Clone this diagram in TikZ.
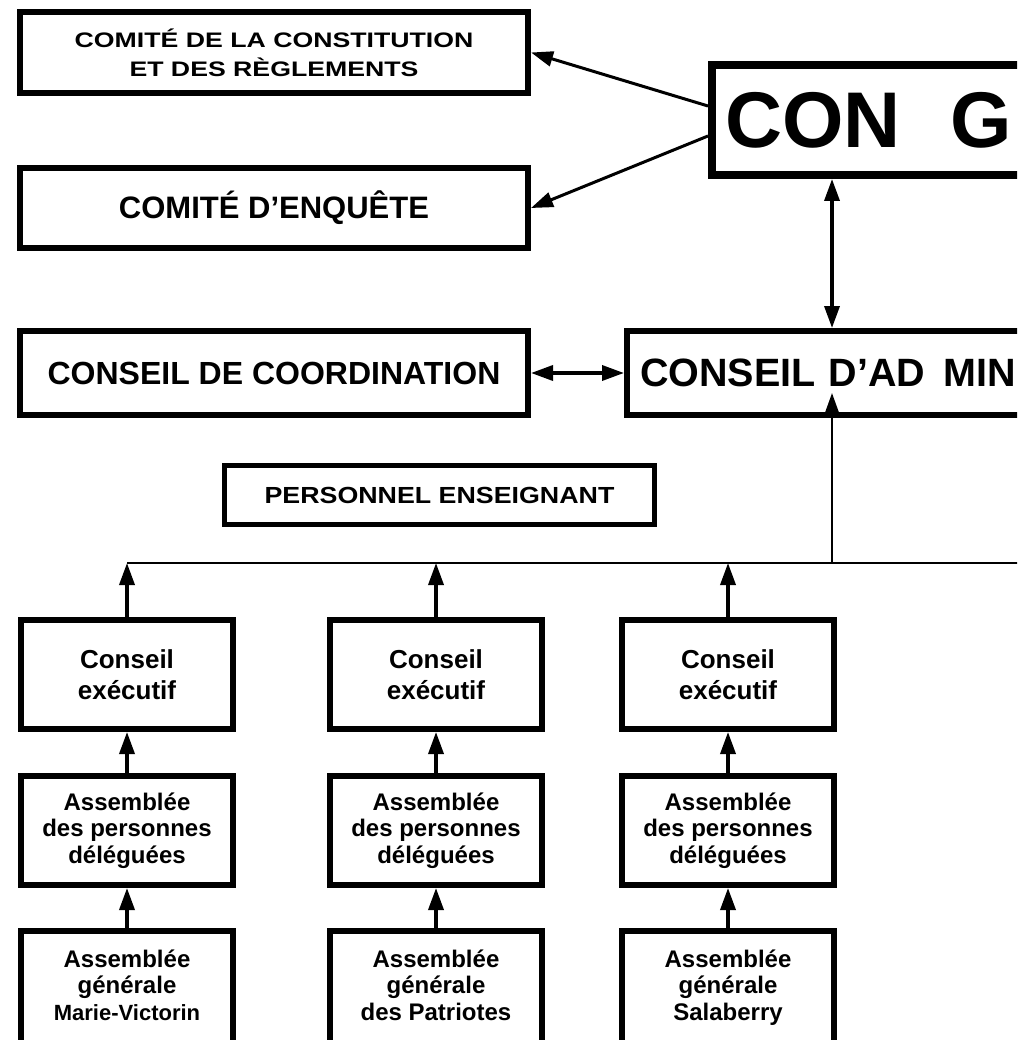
\documentclass[tikz,border=0pt]{standalone}
\usepackage{fontspec}
\setmainfont{Liberation Sans}
\newfontfamily\widefont{Liberation Sans}[FakeStretch=1.27]
\newfontfamily\semiwidefont{Liberation Sans}[FakeStretch=1.15]
\usepackage{tikz}
\usetikzlibrary{arrows.meta, positioning}
\tikzstyle{board} = [rectangle, draw=black, line width=6pt, inner sep=0pt, align=center, font=\bfseries]
\tikzstyle{unit} = [rectangle, draw=black, line width=6pt, inner sep=0pt, minimum width=212pt, minimum height=109pt, align=center]
\tikzstyle{arrow} = [line width=3.5pt, -{Triangle[length=22pt, width=15pt]}]
\tikzstyle{dblarrow} = [line width=3.5pt, {Triangle[length=22pt, width=15pt]}-{Triangle[length=22pt, width=15pt]}]
\tikzstyle{bus} = [line width=2pt]
\begin{document}
\begin{tikzpicture}[x=1pt, y=-1pt]
\fill[white] (0,0) rectangle (1017,1040);
\useasboundingbox (0,0) rectangle (1017,1040);
\clip (0,0) rectangle (1017,1040);

% Committees
\node (cdr) [board, minimum width=508pt, minimum height=81pt, font=\widefont\bfseries\fontsize{21}{29}\selectfont] at (274,52.5) {COMITÉ DE LA CONSTITUTION\\ET DES RÈGLEMENTS};
\node (enq) [board, minimum width=508pt, minimum height=80pt, font=\bfseries\fontsize{31}{36}\selectfont, below=69pt of cdr] {COMITÉ D’ENQUÊTE};

% Congress
\node (cong) [board, line width=8pt, minimum width=344pt, minimum height=110pt, text width=318pt, align=left, font=\bfseries\fontsize{79}{80}\selectfont] at (884,120) {CON\hspace{50pt}G};

% Councils
\node (coord) [board, minimum width=508pt, minimum height=84pt, font=\bfseries\fontsize{32}{36}\selectfont] at (274,373) {CONSEIL DE COORDINATION};
\node (cad) [board, minimum width=410pt, minimum height=84pt, text width=384pt, align=left, font=\bfseries\fontsize{39.5}{42}\selectfont, right=93pt of coord] {CONSEIL D’AD\hspace{18pt}MIN};
\node (pers) [board, line width=5pt, minimum width=430pt, minimum height=59pt, font=\semiwidefont\bfseries\fontsize{23.3}{26}\selectfont] at (439.5,495) {PERSONNEL ENSEIGNANT};

% Sections
\node (exec1) [unit, font=\bfseries\fontsize{26}{31}\selectfont] at (127,674.5) {Conseil\\exécutif};
\node (exec2) [unit, font=\bfseries\fontsize{26}{31}\selectfont, right=91pt of exec1] {Conseil\\exécutif};
\node (exec3) [unit, font=\bfseries\fontsize{26}{31}\selectfont, right=74pt of exec2] {Conseil\\exécutif};

\node (deleg1) [unit, font=\bfseries\fontsize{24}{26.5}\selectfont, below=41pt of exec1] {Assemblée\\des personnes\\déléguées};
\node (deleg2) [unit, font=\bfseries\fontsize{24}{26.5}\selectfont, below=41pt of exec2] {Assemblée\\des personnes\\déléguées};
\node (deleg3) [unit, font=\bfseries\fontsize{24}{26.5}\selectfont, below=41pt of exec3] {Assemblée\\des personnes\\déléguées};

\node (gen1) [unit, minimum height=116pt, text depth=8pt, font=\bfseries\fontsize{24}{26.5}\selectfont, below=40pt of deleg1] {Assemblée\\générale\\{\fontsize{22}{25}\selectfont Marie-Victorin}};
\node (gen2) [unit, minimum height=116pt, text depth=8pt, font=\bfseries\fontsize{24}{26.5}\selectfont, below=40pt of deleg2] {Assemblée\\générale\\des Patriotes};
\node (gen3) [unit, minimum height=116pt, text depth=8pt, font=\bfseries\fontsize{24}{26.5}\selectfont, below=40pt of deleg3] {Assemblée\\générale\\Salaberry};

% Bus line
\coordinate (busL) at (127,563);
\coordinate (busR) at (1030,563);
\draw [bus] (busL) -- (busR);

% Connections
\draw [arrow, line width=3pt] ([yshift=14pt]cong.west) -- (cdr.east);
\draw [arrow, line width=3pt] ([yshift=-16pt]cong.west) -- (enq.east);
\draw [dblarrow] (cad.north |- cong.south) -- (cad.north);
\draw [dblarrow] (coord.east) -- (cad.west);
\draw [arrow, line width=2.5pt] (cad.south |- busL) -- ([yshift=25pt]cad.south);

\draw [arrow] (exec1.north) -- (exec1.north |- busL);
\draw [arrow] (exec2.north) -- (exec2.north |- busL);
\draw [arrow] (exec3.north) -- (exec3.north |- busL);
\draw [arrow] (deleg1) -- (exec1);
\draw [arrow] (deleg2) -- (exec2);
\draw [arrow] (deleg3) -- (exec3);
\draw [arrow] (gen1) -- (deleg1);
\draw [arrow] (gen2) -- (deleg2);
\draw [arrow] (gen3) -- (deleg3);

\end{tikzpicture}
\end{document}
